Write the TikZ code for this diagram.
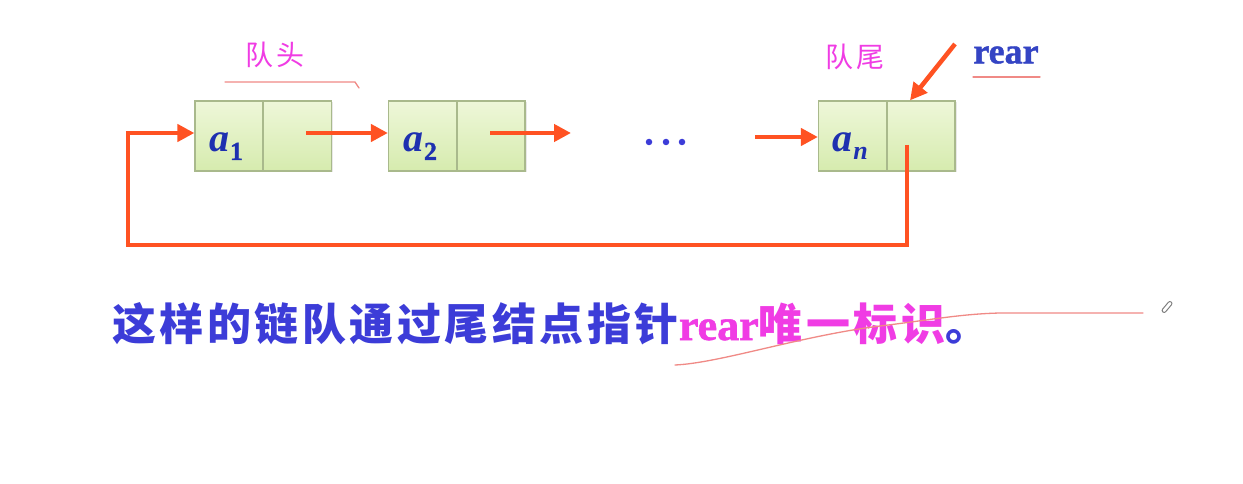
\documentclass[tikz,border=0pt]{standalone}
\usepackage{fontspec}
\setmainfont{Liberation Serif}[BoldFeatures={FakeBold=1.2}]
\newfontfamily\cjk{Noto Sans CJK SC}
\newfontfamily\cjkwide{Noto Sans CJK SC}[LetterSpace=8]
\newfontfamily\cjklab{Noto Sans CJK SC}[LetterSpace=12]
\usetikzlibrary{arrows.meta,shadows}
\definecolor{arrowor}{HTML}{FF5222}
\definecolor{boxtop}{HTML}{EEF7D9}
\definecolor{boxbot}{HTML}{D6EBAE}
\definecolor{boxline}{HTML}{A9B98C}
\definecolor{varblue}{HTML}{1E30B0}
\definecolor{rearblue}{HTML}{3444C4}
\definecolor{txtblue}{HTML}{3C3CD8}
\definecolor{mag}{HTML}{F03CE4}
\definecolor{pinkline}{HTML}{F08A86}
\tikzset{
  cell/.style={rectangle, minimum width=68pt, minimum height=70pt, inner sep=0pt,
    draw=boxline, line width=1.2pt, top color=boxtop, bottom color=boxbot,
    drop shadow={opacity=0.18, shadow xshift=1.5pt, shadow yshift=-1.5pt}},
  var/.style={anchor=base, inner sep=0pt, text=varblue,
    font=\fontsize{40}{40}\selectfont\bfseries\itshape},
  ptr/.style={draw=arrowor, line width=4.5pt, -{Triangle[length=17pt,width=17pt]}},
  loopline/.style={draw=arrowor, line width=4.5pt},
  lab/.style={inner sep=0pt, text=mag, font=\fontsize{28}{28}\selectfont\cjklab},
  hand/.style={draw=pinkline, line width=1.3pt, line cap=round},
  dot/.style={circle, fill=txtblue, inner sep=0pt, minimum size=6.5pt}
}
\begin{document}
\begin{tikzpicture}[x=1pt,y=-1pt]
\useasboundingbox (0,0) rectangle (1243,484);
\fill[white] (0,0) rectangle (1243,484);

% cells
\node[cell] (a1d) at (229,136) {};
\node[cell] (a1p) at (297.5,136) {};
\node[cell] (a2d) at (422.5,136) {};
\node[cell] (a2p) at (491,136) {};
\node[cell] (and) at (852.5,136) {};
\node[cell] (anp) at (921,136) {};

% element labels
\node[var] (l1) at (226,152) {a\kern1pt\raisebox{-8pt}{\fontsize{26}{26}\selectfont\upshape 1}};
\node[var] (l2) at (420,152) {a\kern1pt\raisebox{-8pt}{\fontsize{26}{26}\selectfont\upshape 2}};
\node[var] (ln) at (850,152) {a\kern1pt\raisebox{-8pt}{\fontsize{26}{26}\selectfont n}};

% ellipsis
\node[dot] (d1) at (649,142) {};
\node[dot] (d2) at (666,142) {};
\node[dot] (d3) at (682,142) {};

% pointer arrows
\coordinate (p1) at (306,133);
\coordinate (p2) at (490,133);
\coordinate (p2e) at (571,133);
\coordinate (pin) at (755,137);
\draw[ptr] (p1) -- (p1 -| a2d.west);
\draw[ptr] (p2) -- (p2e);
\draw[ptr] (pin) -- (pin -| and.west);

% circular link
\coordinate (q) at (907,145);
\coordinate (loopL) at (128,245);
\coordinate (loopT) at (128,133);
\draw[loopline, line join=miter] (q) |- (loopL) -- (loopT);
\draw[ptr] ([xshift=-2.25pt]loopT) -- (loopT -| a1d.west);

% rear pointer
\coordinate (rs) at (955,44);
\draw[ptr] (rs) -- ([xshift=-11pt]anp.north);

% labels
\node[lab] (head) at (275,55) {队头};
\node[lab] (tail) at (855,57) {队尾};
\node[inner sep=0pt, text=rearblue, font=\fontsize{36}{36}\selectfont\bfseries] (rear) at (1006,55) {rear};
\draw[hand] (225,82) -- (355,82) -- (359,88);
\draw[hand] (973,77) -- (1040,77);

% bottom sentence
\node[anchor=base west, inner sep=0pt, font=\fontsize{44}{44}\selectfont] (sent) at (112,340)
  {{\color{txtblue}\cjkwide\bfseries 这样的链队通过尾结点指针}{\color{mag}\bfseries rear}{\color{mag}\cjkwide\bfseries 唯一标识}{\color{txtblue}\cjk\bfseries 。}};

% handwritten stroke
\draw[hand] (675,365) .. controls (720,363) and (800,336) .. (880,326)
  .. controls (930,320) and (960,314) .. (1000,313) -- (1143,313);
\node[draw=gray, line width=1pt, rounded corners=2pt, minimum width=4pt, minimum height=13pt,
  inner sep=0pt, rotate=-40] (pencil) at (1167,307) {};
\end{tikzpicture}
\end{document}
